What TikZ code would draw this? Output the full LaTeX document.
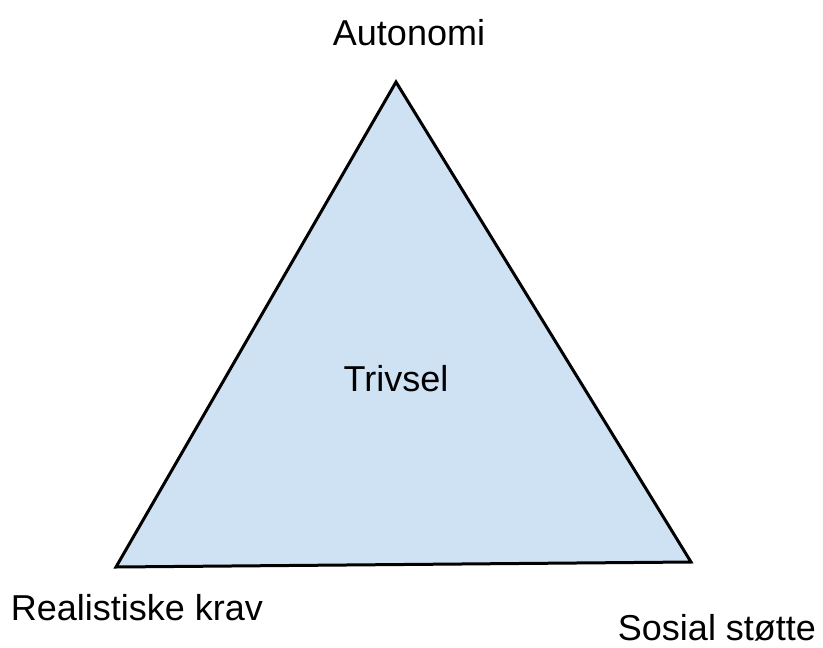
\documentclass[tikz,border=0pt]{standalone}
\usepackage{fontspec}
\setmainfont{Liberation Sans}
\definecolor{trifill}{HTML}{CFE2F3}
\begin{document}
\begin{tikzpicture}[x=1pt,y=-1pt,
  lbl/.style={font=\fontsize{36}{43}\selectfont, anchor=base, inner sep=0pt}]
\useasboundingbox (0,0) rectangle (823,648);
\coordinate (top) at (396,82);
\coordinate (bl) at (116,567);
\coordinate (br) at (691,562);
\filldraw[fill=trifill, draw=black, line width=3pt, line join=miter] (top) -- (bl) -- (br) -- cycle;
\node[lbl] (auto) at (409,45) {Autonomi};
\node[lbl] (triv) at (396,391) {Trivsel};
\node[lbl] (real) at (137,620) {Realistiske krav};
\node[lbl] (sos) at (717,640) {Sosial støtte};
\end{tikzpicture}
\end{document}
